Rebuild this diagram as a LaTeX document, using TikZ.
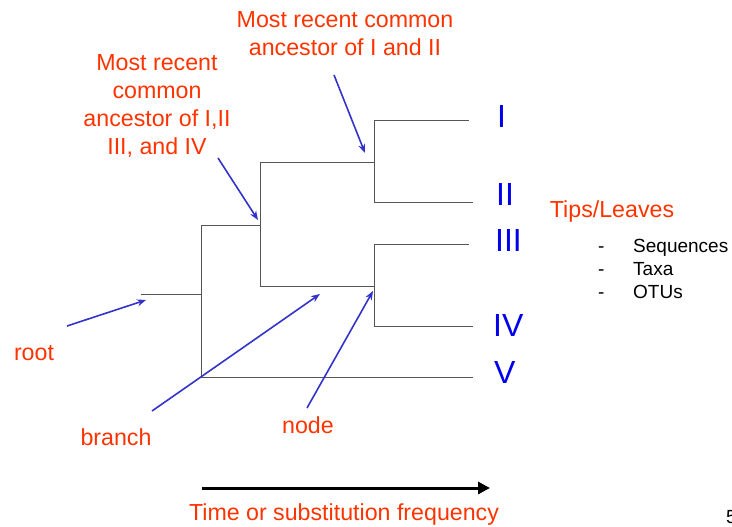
\documentclass[tikz,border=0pt]{standalone}
\usepackage{fontspec}
\setmainfont{Liberation Sans}
\usetikzlibrary{arrows.meta}
\definecolor{lblred}{RGB}{255,51,0}
\definecolor{arrblue}{RGB}{51,51,204}
\definecolor{numblue}{RGB}{0,0,235}
\definecolor{treegray}{RGB}{85,85,85}
\tikzset{
  treeline/.style={draw=treegray, line width=0.9pt},
  ptr/.style={draw=arrblue, line width=1.6pt, -{Stealth[length=9pt,width=7pt]}},
  redlbl/.style={text=lblred, inner sep=0pt, align=center, font=\fontsize{23.2}{28}\selectfont},
  numlbl/.style={text=numblue, inner sep=0pt, anchor=west, font=\fontsize{32}{36}\selectfont},
  smalllbl/.style={text=black, inner sep=0pt, anchor=base west, font=\fontsize{19}{22}\selectfont},
}
\begin{document}
\begin{tikzpicture}[x=1pt,y=-1pt]
\useasboundingbox (0,0) rectangle (732,527);
% tree coordinates
\coordinate (r) at (141,294);
\coordinate (a) at (201,294);
\coordinate (a1) at (201,225);
\coordinate (a2) at (201,377);
\coordinate (v) at (473,377);
\coordinate (b) at (260,225);
\coordinate (b1) at (260,162);
\coordinate (b2) at (260,286);
\coordinate (c) at (374,162);
\coordinate (c1) at (374,120);
\coordinate (c2) at (374,202);
\coordinate (d) at (374,286);
\coordinate (d1) at (374,244);
\coordinate (d2) at (374,326);
\coordinate (lI) at (469,120);
\coordinate (lII) at (473,202);
\coordinate (lIII) at (469,244);
\coordinate (lIV) at (473,326);
% tree
\draw[treeline] (r) -- (a);
\draw[treeline] (a1) -- (a2);
\draw[treeline] (a1) -- (b);
\draw[treeline] (a2) -- (v);
\draw[treeline] (b1) -- (b2);
\draw[treeline] (b1) -- (c);
\draw[treeline] (b2) -- (d);
\draw[treeline] (c1) -- (c2);
\draw[treeline] (d1) -- (d2);
\draw[treeline] (c1) -- (lI);
\draw[treeline] (c2) -- (lII);
\draw[treeline] (d1) -- (lIII);
\draw[treeline] (d2) -- (lIV);
% leaf labels
\node[numlbl] (nI) at (497,116) {I};
\node[numlbl] (nII) at (496,194) {II};
\node[numlbl] (nIII) at (495,240) {III};
\node[numlbl] (nIV) at (493,325) {IV};
\node[numlbl] (nV) at (494,372) {V};
% red labels
\node[redlbl] (mrca2) at (345,34) {Most recent common\\ancestor of I and II};
\node[redlbl] (mrca4) at (157,106) {Most recent\\common\\ancestor of I,II\\III, and IV};
\node[redlbl] (root) at (34,353) {root};
\node[redlbl] (branch) at (116,437) {branch};
\node[redlbl] (node) at (308,425) {node};
\node[redlbl] (tips) at (612,212) {Tips/Leaves};
\node[redlbl] (time) at (344,514) {Time or substitution frequency};
% list
\node[smalllbl] (d1l) at (598,252) {-};
\node[smalllbl] (d2l) at (598,275) {-};
\node[smalllbl] (d3l) at (598,298) {-};
\node[smalllbl] (seq) at (633,252) {Sequences};
\node[smalllbl] (taxa) at (633,275) {Taxa};
\node[smalllbl] (otus) at (633,298) {OTUs};
\node[smalllbl] (pg) at (726,523) {5};
% arrow coordinates
\coordinate (rt) at (67,326);
\coordinate (rh) at (146,300);
\coordinate (bt) at (152,411);
\coordinate (bh) at (320,294);
\coordinate (nt) at (307,408);
\coordinate (nh) at (373,291);
\coordinate (m4t) at (218,158);
\coordinate (m4h) at (258,220);
\coordinate (m2t) at (334,75);
\coordinate (m2h) at (365,153);
\draw[ptr] (rt) -- (rh);
\draw[ptr] (bt) -- (bh);
\draw[ptr] (nt) -- (nh);
\draw[ptr] (m4t) -- (m4h);
\draw[ptr] (m2t) -- (m2h);
% time arrow
\coordinate (ta) at (202,488);
\coordinate (tb) at (490,488);
\draw[line width=3pt, -{Triangle[length=12pt,width=12pt]}] (ta) -- (tb);
\end{tikzpicture}
\end{document}
